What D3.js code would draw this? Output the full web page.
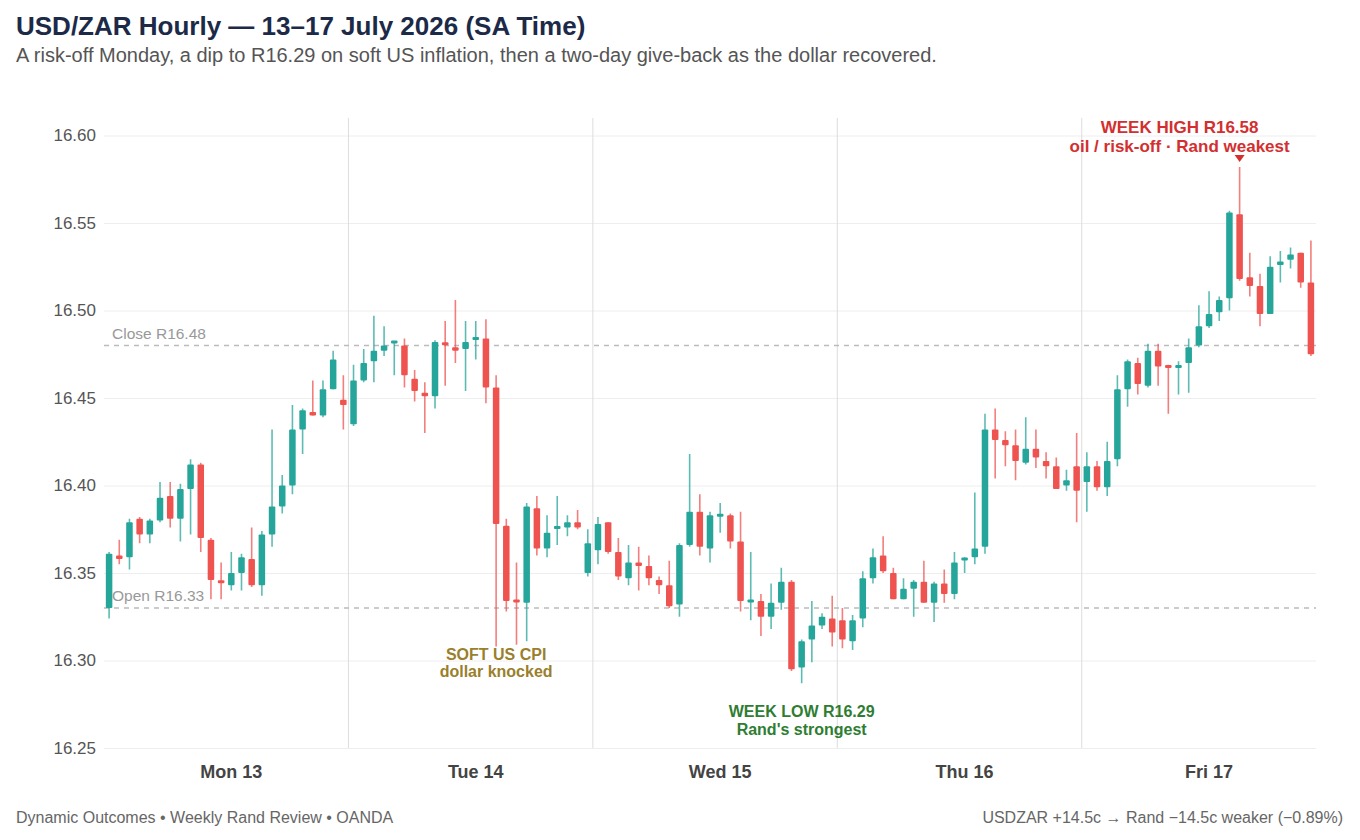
<!DOCTYPE html>
<html lang="en">
<head>
<meta charset="utf-8">
<title>USD/ZAR Hourly</title>
<script src="https://cdn.jsdelivr.net/npm/d3@7"></script>
<style>
  body { margin: 0; background: #fff; font-family: "Liberation Sans", Arial, Helvetica, sans-serif; }
</style>
</head>
<body>
<svg id="chart" width="1360" height="840"></svg>
<script>
// hourly candles, Mon 13 00:00 -> Fri 17 22:00 (SA time)
var opens = [
  16.330, 16.360, 16.359, 16.381, 16.372, 16.380, 16.394, 16.381, 16.398, 16.412, 16.369, 16.345,
  16.343, 16.350, 16.358, 16.343, 16.372, 16.388, 16.400, 16.432, 16.442, 16.440, 16.455, 16.449,
  16.435, 16.460, 16.471, 16.477, 16.481, 16.480, 16.461, 16.453, 16.451, 16.481, 16.479, 16.478,
  16.483, 16.484, 16.456, 16.377, 16.334, 16.333, 16.387, 16.364, 16.375, 16.376, 16.379, 16.350,
  16.363, 16.379, 16.362, 16.347, 16.356, 16.354, 16.346, 16.343, 16.332, 16.366, 16.385, 16.364,
  16.382, 16.383, 16.368, 16.333, 16.334, 16.325, 16.333, 16.345, 16.296, 16.312, 16.320, 16.324,
  16.323, 16.311, 16.324, 16.347, 16.360, 16.350, 16.335, 16.341, 16.345, 16.333, 16.344, 16.338,
  16.357, 16.359, 16.365, 16.432, 16.426, 16.423, 16.413, 16.421, 16.414, 16.411, 16.400, 16.411,
  16.402, 16.411, 16.399, 16.415, 16.455, 16.470, 16.457, 16.477, 16.468, 16.467, 16.470, 16.480,
  16.491, 16.499, 16.507, 16.555, 16.519, 16.514, 16.498, 16.526, 16.529, 16.533, 16.516
];
var highs = [
  16.362, 16.369, 16.381, 16.382, 16.381, 16.402, 16.402, 16.401, 16.415, 16.413, 16.370, 16.356,
  16.362, 16.361, 16.376, 16.374, 16.432, 16.406, 16.446, 16.444, 16.460, 16.460, 16.477, 16.463,
  16.469, 16.478, 16.497, 16.491, 16.482, 16.484, 16.466, 16.459, 16.483, 16.494, 16.506, 16.494,
  16.494, 16.495, 16.463, 16.381, 16.356, 16.390, 16.394, 16.383, 16.394, 16.383, 16.386, 16.375,
  16.382, 16.379, 16.370, 16.366, 16.365, 16.360, 16.348, 16.357, 16.367, 16.418, 16.395, 16.385,
  16.390, 16.384, 16.385, 16.362, 16.338, 16.344, 16.353, 16.346, 16.312, 16.334, 16.327, 16.337,
  16.330, 16.326, 16.351, 16.364, 16.371, 16.353, 16.347, 16.346, 16.357, 16.345, 16.352, 16.362,
  16.359, 16.396, 16.441, 16.444, 16.431, 16.432, 16.439, 16.432, 16.419, 16.416, 16.409, 16.430,
  16.419, 16.414, 16.425, 16.463, 16.472, 16.473, 16.481, 16.481, 16.469, 16.471, 16.484, 16.503,
  16.511, 16.508, 16.557, 16.582, 16.533, 16.521, 16.531, 16.534, 16.536, 16.533, 16.540
];
var lows = [
  16.324, 16.355, 16.352, 16.367, 16.367, 16.379, 16.376, 16.368, 16.372, 16.362, 16.335, 16.335,
  16.340, 16.340, 16.342, 16.337, 16.365, 16.384, 16.395, 16.418, 16.440, 16.439, 16.455, 16.432,
  16.434, 16.459, 16.459, 16.474, 16.463, 16.456, 16.448, 16.430, 16.444, 16.457, 16.470, 16.454,
  16.472, 16.447, 16.308, 16.328, 16.309, 16.311, 16.360, 16.359, 16.366, 16.371, 16.375, 16.348,
  16.355, 16.361, 16.346, 16.343, 16.340, 16.343, 16.338, 16.330, 16.325, 16.365, 16.360, 16.356,
  16.373, 16.364, 16.328, 16.323, 16.314, 16.318, 16.329, 16.294, 16.287, 16.299, 16.318, 16.308,
  16.307, 16.306, 16.319, 16.344, 16.350, 16.335, 16.335, 16.325, 16.333, 16.322, 16.333, 16.335,
  16.350, 16.355, 16.361, 16.404, 16.411, 16.403, 16.412, 16.410, 16.404, 16.398, 16.397, 16.379,
  16.385, 16.397, 16.394, 16.411, 16.445, 16.452, 16.456, 16.457, 16.441, 16.452, 16.453, 16.479,
  16.490, 16.494, 16.500, 16.517, 16.508, 16.491, 16.498, 16.516, 16.524, 16.513, 16.474
];
var closes = [
  16.361, 16.358, 16.379, 16.372, 16.380, 16.393, 16.381, 16.398, 16.412, 16.370, 16.346, 16.344,
  16.350, 16.359, 16.343, 16.372, 16.388, 16.400, 16.432, 16.443, 16.440, 16.455, 16.472, 16.446,
  16.460, 16.470, 16.477, 16.480, 16.482, 16.463, 16.454, 16.451, 16.482, 16.480, 16.477, 16.482,
  16.484, 16.456, 16.378, 16.334, 16.333, 16.388, 16.364, 16.373, 16.376, 16.379, 16.376, 16.367,
  16.378, 16.362, 16.348, 16.356, 16.354, 16.347, 16.343, 16.331, 16.366, 16.385, 16.365, 16.383,
  16.383, 16.368, 16.334, 16.334, 16.325, 16.333, 16.345, 16.295, 16.311, 16.320, 16.325, 16.316,
  16.312, 16.323, 16.347, 16.359, 16.351, 16.335, 16.341, 16.345, 16.333, 16.344, 16.338, 16.356,
  16.358, 16.364, 16.432, 16.426, 16.423, 16.414, 16.421, 16.416, 16.411, 16.398, 16.403, 16.397,
  16.411, 16.399, 16.414, 16.455, 16.471, 16.458, 16.477, 16.468, 16.467, 16.468, 16.479, 16.491,
  16.498, 16.506, 16.556, 16.518, 16.514, 16.498, 16.525, 16.528, 16.532, 16.516, 16.475
];

var dayLabels = ["Mon 13", "Tue 14", "Wed 15", "Thu 16", "Fri 17"];
var yTicks = [16.25, 16.30, 16.35, 16.40, 16.45, 16.50, 16.55, 16.60];
var weekOpen = 16.33, weekClose = 16.48;

var green = "#26a69a", red = "#ef5350";

var svg = d3.select("#chart");
var margin = { left: 104, right: 44, top: 118, bottom: 92 };
var width = 1360, height = 840;

var x = d3.scaleLinear()
    .domain([0, opens.length])
    .range([margin.left, width - margin.right]);
var y = d3.scaleLinear()
    .domain([16.25, 16.61])
    .range([height - margin.bottom, margin.top]);
var step = x(1) - x(0);

// title
svg.append("text")
    .attr("x", 16).attr("y", 35)
    .attr("font-size", 26).attr("font-weight", "bold")
    .attr("fill", "#1c2a48")
    .text("USD/ZAR Hourly \u2014 13\u201317 July 2026 (SA Time)");
svg.append("text")
    .attr("x", 16).attr("y", 62)
    .attr("font-size", 20).attr("fill", "#555")
    .text("A risk-off Monday, a dip to R16.29 on soft US inflation, then a two-day give-back as the dollar recovered.");

// horizontal grid + y labels
var yAxis = svg.append("g")
    .attr("transform", "translate(" + margin.left + ",0)")
    .call(d3.axisLeft(y).tickValues(yTicks).tickFormat(d3.format(".2f"))
        .tickSize(-(width - margin.left - margin.right)).tickPadding(8));
yAxis.select(".domain").remove();
yAxis.selectAll(".tick line").attr("stroke", "#eeeeee").attr("stroke-width", 1);
yAxis.selectAll(".tick text")
    .attr("font-size", 17).attr("fill", "#555")
    .attr("font-family", "Liberation Sans, Arial, sans-serif");

// day separators
svg.selectAll("line.day")
    .data(d3.range(1, dayLabels.length))
    .join("line")
    .attr("class", "day")
    .attr("x1", d => x(d * 24)).attr("x2", d => x(d * 24))
    .attr("y1", margin.top).attr("y2", height - margin.bottom)
    .attr("stroke", "#dddddd").attr("stroke-width", 1);

// day labels at noon
svg.selectAll("text.day")
    .data(dayLabels)
    .join("text")
    .attr("class", "day")
    .attr("x", (d, i) => x(i * 24 + 12.5))
    .attr("y", 778)
    .attr("text-anchor", "middle")
    .attr("font-size", 18).attr("font-weight", "bold")
    .attr("fill", "#444")
    .text(d => d);

// open / close reference lines
[["Open R16.33", weekOpen], ["Close R16.48", weekClose]].forEach(function (r) {
    svg.append("line")
        .attr("x1", margin.left).attr("x2", width - margin.right)
        .attr("y1", y(r[1])).attr("y2", y(r[1]))
        .attr("stroke", "#bbbbbb").attr("stroke-width", 1.4)
        .attr("stroke-dasharray", "5,5");
    svg.append("text")
        .attr("x", margin.left + 8).attr("y", y(r[1]) - 7)
        .attr("font-size", 15.5).attr("fill", "#999")
        .text(r[0]);
});

// candles
var idx = d3.range(opens.length);
var candles = svg.append("g").selectAll("g")
    .data(idx)
    .join("g")
    .attr("transform", i => "translate(" + x(i + 0.5) + ",0)");

candles.append("line")
    .attr("y1", i => y(highs[i]))
    .attr("y2", i => y(lows[i]))
    .attr("stroke", i => closes[i] >= opens[i] ? green : red)
    .attr("stroke-opacity", 0.75)
    .attr("stroke-width", 1.6);

var bw = step * 0.64;
candles.append("rect")
    .attr("x", -bw / 2)
    .attr("width", bw)
    .attr("y", i => y(Math.max(opens[i], closes[i])) - (Math.abs(y(opens[i]) - y(closes[i])) < 3 ? 1.5 : 0))
    .attr("height", i => Math.max(3, Math.abs(y(opens[i]) - y(closes[i]))))
    .attr("rx", 1)
    .attr("fill", i => closes[i] >= opens[i] ? green : red);

// annotations
var iCpi = 38, iLow = lows.indexOf(d3.min(lows)), iHigh = highs.indexOf(d3.max(highs));

function note(cx, cy, lines, color, size, gap) {
    var t = svg.append("text")
        .attr("text-anchor", "middle")
        .attr("font-size", size).attr("font-weight", "bold")
        .attr("fill", color);
    lines.forEach(function (s, k) {
        t.append("tspan").attr("x", cx).attr("y", cy + k * gap).text(s);
    });
}
note(x(iCpi + 0.5), y(lows[iCpi]) + 13, ["SOFT US CPI", "dollar knocked"], "#9a7f2c", 16, 17.5);
note(x(iLow + 0.5), y(lows[iLow]) + 34, ["WEEK LOW R16.29", "Rand's strongest"], "#2e7d32", 16, 17.5);
note(x(iHigh + 0.5) - 60, y(highs[iHigh]) - 34, ["WEEK HIGH R16.58", "oil / risk-off \u00b7 Rand weakest"], "#d32f2f", 17, 19);

var hx = x(iHigh + 0.5), hy = y(highs[iHigh]) - 5;
svg.append("path")
    .attr("d", "M" + (hx - 5) + "," + (hy - 7) + "L" + (hx + 5) + "," + (hy - 7) + "L" + hx + "," + hy + "Z")
    .attr("fill", "#d32f2f");

// footer
svg.append("text")
    .attr("x", 16).attr("y", 823)
    .attr("font-size", 16).attr("fill", "#666")
    .text("Dynamic Outcomes \u2022 Weekly Rand Review \u2022 OANDA");
svg.append("text")
    .attr("x", 1343).attr("y", 823)
    .attr("text-anchor", "end")
    .attr("font-size", 16).attr("fill", "#666")
    .text("USDZAR +14.5c \u2192 Rand \u221214.5c weaker (\u22120.89%)");
</script>
</body>
</html>
